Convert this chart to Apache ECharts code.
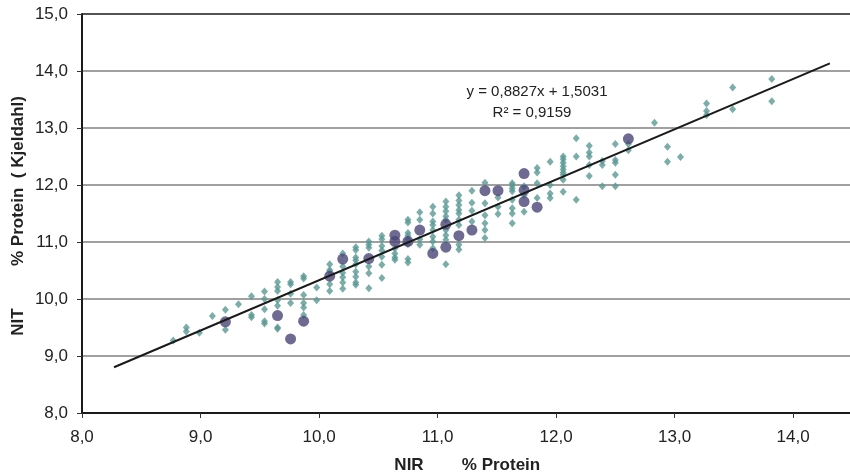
<!DOCTYPE html>
<html>
<head>
<meta charset="utf-8">
<script src="https://cdn.jsdelivr.net/npm/echarts@6/dist/echarts.min.js"></script>
<style>
  html, body { margin: 0; padding: 0; background: #ffffff; }
  #chart { width: 850px; height: 476px; }
</style>
</head>
<body>
<div id="chart"></div>
<script>
// NIR predicted protein (x) against Kjeldahl reference protein (y), in %.
// Calibration samples, grouped by NIR value column.
const calibNir = [8.77, 8.88, 8.99, 9.10, 9.21, 9.32, 9.43, 9.54, 9.65, 9.76, 9.87, 9.98,
  10.09, 10.20, 10.31, 10.42, 10.53, 10.64, 10.75, 10.85, 10.96, 11.07, 11.18, 11.29,
  11.40, 11.51, 11.63, 11.73, 11.84, 11.95, 12.06, 12.17, 12.28, 12.39, 12.50, 12.61,
  12.83, 12.94, 13.05, 13.27, 13.49, 13.82];
const calibNit = [
  [9.27],
  [9.50, 9.43],
  [9.41],
  [9.70],
  [9.81, 9.46],
  [9.91],
  [10.05, 9.72, 9.68],
  [10.13, 10.00, 9.82, 9.61, 9.57],
  [10.30, 10.21, 10.14, 9.98, 9.88, 9.50, 9.48],
  [10.30, 10.26, 10.09, 9.93],
  [10.40, 10.36, 10.07, 9.93, 9.85, 9.72],
  [10.20, 9.98],
  [10.61, 10.51, 10.48, 10.26, 10.14],
  [10.80, 10.57, 10.46, 10.38, 10.29, 10.18],
  [10.91, 10.86, 10.73, 10.68, 10.61, 10.48, 10.39, 10.29, 10.25],
  [11.01, 10.95, 10.90, 10.57, 10.45, 10.19],
  [11.11, 11.05, 10.93, 10.85, 10.74, 10.60, 10.37],
  [10.89, 10.80, 10.73, 10.69],
  [11.39, 11.34, 11.16, 11.11, 11.05, 10.96, 10.70, 10.64],
  [11.52, 11.39, 11.05, 10.95],
  [11.62, 11.50, 11.36, 11.30, 11.21, 11.09, 11.01, 10.89],
  [11.71, 11.62, 11.54, 11.45, 11.39, 11.21, 11.12, 11.04, 10.61],
  [11.82, 11.73, 11.65, 11.56, 11.50, 11.39, 11.30, 10.95, 10.87],
  [11.90, 11.69, 11.55, 11.36],
  [12.04, 11.68, 11.47, 11.33, 11.21, 11.07],
  [11.78, 11.62, 11.49],
  [12.03, 11.99, 11.94, 11.89, 11.74, 11.59, 11.50, 11.33],
  [11.98, 11.82, 11.53],
  [12.30, 12.22, 12.03, 11.77],
  [12.41, 12.00, 11.85, 11.77],
  [12.50, 12.45, 12.39, 12.33, 12.27, 12.22, 12.18, 12.09, 11.88],
  [12.82, 12.50, 11.74],
  [12.69, 12.57, 12.50, 12.35, 12.16],
  [12.42, 12.35, 11.98],
  [12.72, 12.44, 12.39, 12.18, 11.98],
  [12.72, 12.61],
  [13.09],
  [12.67, 12.41],
  [12.49],
  [13.43, 13.30, 13.23],
  [13.71, 13.33],
  [13.86, 13.47]
];

// Validation samples.
const checkNir = [9.21, 9.65, 9.76, 9.87, 10.09, 10.20, 10.42, 10.64, 10.64, 10.75, 10.85,
  10.96, 11.07, 11.07, 11.18, 11.29, 11.40, 11.51, 11.73, 11.73, 11.73, 11.84, 12.61];
const checkNit = [9.60, 9.71, 9.30, 9.61, 10.40, 10.70, 10.71, 11.12, 11.01, 11.01, 11.21,
  10.80, 11.31, 10.91, 11.11, 11.21, 11.90, 11.90, 12.20, 11.91, 11.71, 11.61, 12.81];

// Linear regression fitted to the calibration set.
const trendSlope = 0.8827;
const trendIntercept = 1.5031;
const trendR2 = 0.9159;
const trendNirRange = [8.27, 14.31];

const xTicks = [8, 9, 10, 11, 12, 13, 14];
const yTicks = [8, 9, 10, 11, 12, 13, 14, 15];

const fmt = (v, d) => v.toFixed(d).replace('.', ',');

const calibPoints = [];
calibNir.forEach((x, i) => calibNit[i].forEach(y => calibPoints.push([x, y])));
const checkPoints = checkNir.map((x, i) => [x, checkNit[i]]);
const trendPoints = trendNirRange.map(x => [x, trendSlope * x + trendIntercept]);

const labelFont = 'Liberation Sans, Arial, sans-serif';
const chart = echarts.init(document.getElementById('chart'));

chart.setOption({
  animation: false,
  backgroundColor: '#ffffff',
  grid: { left: 82, top: 14, width: 768, bottom: 63, containLabel: false },
  xAxis: {
    type: 'value',
    min: xTicks[0],
    max: 14.48,
    interval: 1,
    axisLine: { show: true, onZero: false, lineStyle: { color: '#1a1a1a', width: 2 } },
    axisTick: { show: true, inside: false, length: 5, lineStyle: { color: '#333', width: 1 } },
    axisLabel: {
      showMaxLabel: false,
      margin: 16,
      color: '#222',
      fontFamily: labelFont,
      fontSize: 17,
      formatter: v => (xTicks.includes(Math.round(v * 1000) / 1000) ? fmt(v, 1) : '')
    },
    splitLine: { show: false }
  },
  yAxis: {
    type: 'value',
    min: yTicks[0],
    max: yTicks[yTicks.length - 1],
    interval: 1,
    axisLine: { show: true, onZero: false, lineStyle: { color: '#1a1a1a', width: 2 } },
    axisTick: { show: true, inside: false, length: 5, lineStyle: { color: '#333', width: 1 } },
    axisLabel: {
      margin: 14,
      color: '#222',
      fontFamily: labelFont,
      fontSize: 17,
      formatter: v => fmt(v, 1)
    },
    splitLine: {
      show: true,
      lineStyle: {
        color: ['#808080', '#808080', '#808080', '#808080', '#808080', '#808080', '#808080', '#1a1a1a'],
        width: 1.5
      }
    }
  },
  series: [
    {
      name: 'Kalibrierung',
      type: 'scatter',
      symbol: 'diamond',
      symbolSize: [7, 8],
      itemStyle: { color: '#5a9894' },
      data: calibPoints,
      z: 2
    },
    {
      name: 'Validierung',
      type: 'scatter',
      symbol: 'circle',
      symbolSize: 11,
      itemStyle: { color: '#4a4577' },
      data: checkPoints,
      z: 3
    },
    {
      name: 'Trend',
      type: 'line',
      data: trendPoints,
      symbol: 'none',
      lineStyle: { color: '#1a1a1a', width: 2 },
      z: 4
    }
  ],
  graphic: [
    {
      type: 'text', x: 537, y: 92, z: 10,
      style: {
        text: 'y = ' + fmt(trendSlope, 4) + 'x + ' + fmt(trendIntercept, 4),
        font: '15px ' + labelFont, fill: '#222', align: 'center', verticalAlign: 'middle'
      }
    },
    {
      type: 'text', x: 532, y: 113, z: 10,
      style: {
        text: 'R² = ' + fmt(trendR2, 4),
        font: '15px ' + labelFont, fill: '#222', align: 'center', verticalAlign: 'middle'
      }
    },
    {
      type: 'text', x: 18, y: 181, rotation: Math.PI / 2, z: 10,
      style: {
        text: '% Protein  ( Kjeldahl)',
        font: 'bold 17px ' + labelFont, fill: '#222', align: 'center', verticalAlign: 'middle'
      }
    },
    {
      type: 'text', x: 18, y: 322, rotation: Math.PI / 2, z: 10,
      style: {
        text: 'NIT',
        font: 'bold 17px ' + labelFont, fill: '#222', align: 'center', verticalAlign: 'middle'
      }
    },
    {
      type: 'text', x: 409, y: 465, z: 10,
      style: {
        text: 'NIR',
        font: 'bold 17px ' + labelFont, fill: '#222', align: 'center', verticalAlign: 'middle'
      }
    },
    {
      type: 'text', x: 501, y: 465, z: 10,
      style: {
        text: '% Protein',
        font: 'bold 17px ' + labelFont, fill: '#222', align: 'center', verticalAlign: 'middle'
      }
    }
  ]
});
</script>
</body>
</html>
